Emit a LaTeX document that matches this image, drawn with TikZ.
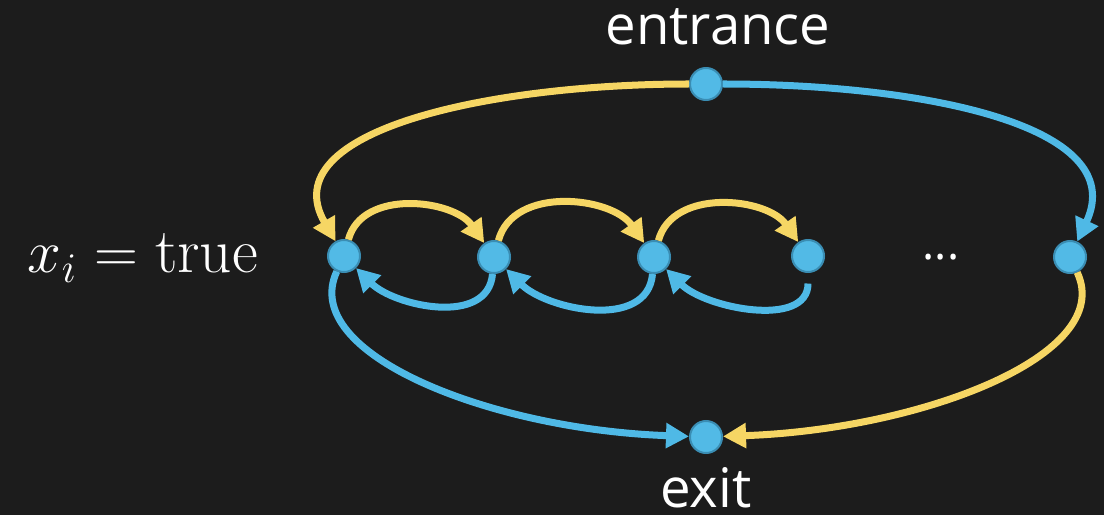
\documentclass[tikz,border=0pt]{standalone}
\usepackage{fontspec}
\newfontfamily\labelfont{Open Sans}
\usetikzlibrary{arrows.meta}

\definecolor{board}{HTML}{1C1C1C}
\definecolor{nodeblue}{HTML}{52BAE6}
\definecolor{rimblue}{HTML}{3A8DB3}
\definecolor{chalkyellow}{HTML}{F6D664}
\definecolor{chalkblue}{HTML}{4FB9E6}

\begin{document}
\begin{tikzpicture}[x=0.01cm, y=0.01cm,
    vertex/.style={circle, fill=nodeblue, draw=rimblue, line width=0.02cm, minimum size=0.32cm, inner sep=0pt},
    yedge/.style={chalkyellow, line width=0.07cm, -{Triangle[length=0.23cm, width=0.24cm]}},
    bedge/.style={chalkblue, line width=0.07cm, -{Triangle[length=0.23cm, width=0.24cm]}},
    caption/.style={text=white, inner sep=0pt, anchor=base}]
    % Board
    \fill[board] (0,0) rectangle (1104,515);
    \useasboundingbox (0,0) rectangle (1104,515);

    % Entrance and exit
    \node[vertex] (ent) at (706,431) {};
    \node[vertex] (ex) at (706,78) {};
    \node[caption, font=\labelfont\fontsize{15.5}{18}\selectfont] (enttext) at (718,470) {entrance};
    \node[caption, font=\labelfont\fontsize{15.5}{18}\selectfont] (extext) at (706,8) {exit};

    % Chain of vertices
    \node[vertex] (v1) at (344,259) {};
    \node[vertex] (v2) at (494,258) {};
    \node[vertex] (v3) at (654,258) {};
    \node[vertex] (v4) at (808,259) {};
    \node[caption, font=\labelfont\fontsize{13}{16}\selectfont] (dots) at (941,255) {...};
    \node[vertex] (v5) at (1070,258) {};

    % Variable label
    \node[caption, font=\fontsize{18}{21}\selectfont] (var) at (143,242) {$x_i = \mathrm{true}$};

    % Outer loop
    \draw[yedge] (ent) to[out=180, in=120, out looseness=1.3, in looseness=0.85] (v1);
    \draw[bedge] (ent) to[out=0, in=65, out looseness=1.3, in looseness=0.85] (v5);
    \draw[bedge] (v1) to[out=-115, in=178, out looseness=0.6, in looseness=1.3] (ex);
    \draw[yedge] (v5) to[out=-65, in=2, out looseness=0.6, in looseness=1.3] (ex);

    % Forward steps along the top
    \draw[yedge] (v1) to[out=75, in=125, looseness=1.0] (v2);
    \draw[yedge] (v2) to[out=75, in=125, looseness=1.0] (v3);
    \draw[yedge] (v3) to[out=75, in=125, looseness=1.0] (v4);

    % Backward steps along the bottom
    \draw[bedge] (v2) to[out=-95, in=-45, looseness=1.0] (v1);
    \draw[bedge] (v3) to[out=-95, in=-45, looseness=1.0] (v2);
    \draw[bedge, shorten <=3pt] (v4) to[out=-90, in=-45, looseness=1.0] (v3);
\end{tikzpicture}
\end{document}
